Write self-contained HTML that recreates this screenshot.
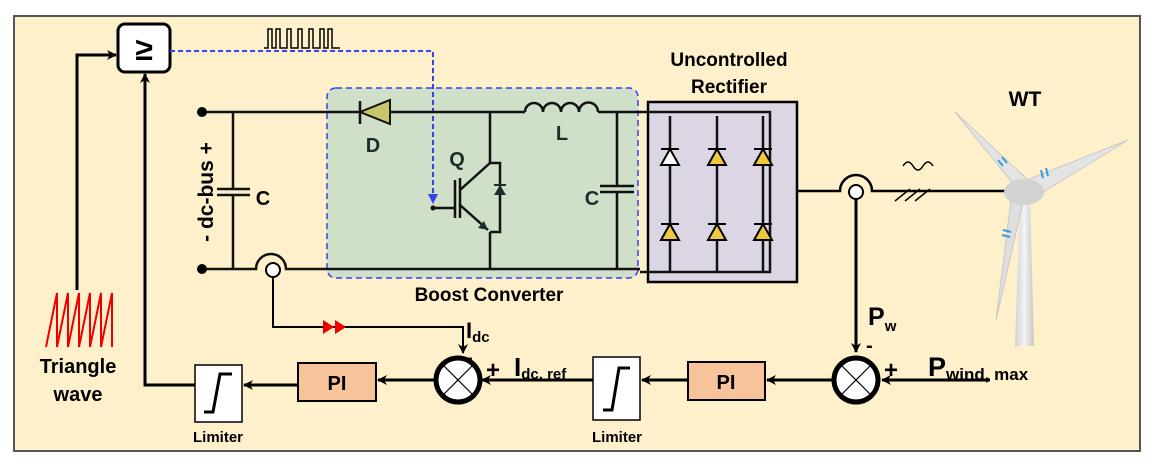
<!DOCTYPE html>
<html><head><meta charset="utf-8"><style>body{margin:0;background:#fff}svg{display:block}text{font-family:"Liberation Sans",Arial,sans-serif;font-weight:bold}</style></head><body>
<svg width="1153" height="465" viewBox="0 0 1153 465" xmlns="http://www.w3.org/2000/svg">
<defs>
<marker id="ah" markerWidth="10" markerHeight="10" refX="9" refY="5" orient="auto" markerUnits="userSpaceOnUse"><path d="M0,0 L10,5 L0,10 L3,5 z" fill="#000"/></marker>
<marker id="ab" markerWidth="10" markerHeight="10" refX="9" refY="5" orient="auto" markerUnits="userSpaceOnUse"><path d="M0,0 L10,5 L0,10 z" fill="#3344ee"/></marker>
<linearGradient id="tw" x1="0" x2="1"><stop offset="0" stop-color="#d0d0d0"/><stop offset=".5" stop-color="#f4f4f4"/><stop offset="1" stop-color="#c4c4c4"/></linearGradient>
</defs>
<rect x="14" y="16" width="1126" height="435" fill="#fdf0cb" stroke="#555" stroke-width="2"/>
<!-- comparator -->
<rect x="118" y="24" width="52" height="48" rx="7" fill="#fff" stroke="#000" stroke-width="3"/>
<text x="144" y="60" font-size="32" text-anchor="middle">≥</text>
<path d="M77,290 V55 H116" fill="none" stroke="#000" stroke-width="3" marker-end="url(#ah)"/>
<path d="M195,385 H145 V74" fill="none" stroke="#000" stroke-width="3" marker-end="url(#ah)"/>
<path d="M46,347 L57,293 V347 L68,293 V347 L79,293 V347 L90,293 V347 L101,293 V347 L112,293 V347" fill="none" stroke="#e00" stroke-width="2"/>
<text x="78" y="373" font-size="20" text-anchor="middle">Triangle</text>
<text x="78" y="401" font-size="20" text-anchor="middle">wave</text>
<path d="M264,48 H268 V29 H272 V48 H276 V29 H280 V48 H287 V29 H291 V48 H298 V29 H302 V48 H309 V29 H313 V48 H320 V29 H324 V48 H328 V29 H332 V48 H340" fill="none" stroke="#000" stroke-width="1.5"/>
<!-- green box -->
<rect x="327" y="88" width="311" height="190" rx="9" fill="#cfdfc8" stroke="#3344ee" stroke-width="1.5" stroke-dasharray="6,4"/>
<!-- blue dashed -->
<path d="M170,51 H433 V203" fill="none" stroke="#3344ee" stroke-width="2" stroke-dasharray="5,3" marker-end="url(#ab)"/>
<!-- rectifier box -->
<rect x="648" y="102" width="149" height="180" fill="#dcd6e4" stroke="#000" stroke-width="2.5"/>
<!-- dc bus -->
<g stroke="#111" stroke-width="2.5" fill="none">
<path d="M202,112 H360 M390,112 H525 M598,112 H770 V272 H640"/>
<path d="M670,116 V272 M717,116 V272 M763,116 V272"/>
<path d="M525,112 a9,9 0 0 1 18,0 a9,9 0 0 1 18,0 a9,9 0 0 1 18,0 a9,9 0 0 1 19,0"/>
<path d="M202,269 H256 A15,15 0 0 1 286,269 H640"/>
<path d="M233,112 V189 M233,195 V269 M217,189 H250 M217,195 H250"/>
<path d="M617,112 V186 M617,192 V269 M600,186 H634 M600,192 H634"/>
<path d="M490,112 V163 H500 V232 H490 M490,232 V269"/>
<path d="M433,208 H455 M455,180 V218 M460,178 V218 M460,190 L490,163 M460,205 L488,230"/>
<path d="M360,101 V124"/>
</g>
<path d="M360,112 L390,100 V124 z" fill="#c9c56b" stroke="#111" stroke-width="2"/>
<path d="M500,185 L494,195 H506 z" fill="#1a2e2e"/><path d="M494,185 H506" stroke="#1a2e2e" stroke-width="2"/>
<path d="M488,230 L478,228 L484,221 z" fill="#1a2e2e"/>
<circle cx="433" cy="208" r="2.5" fill="#111"/>
<circle cx="202" cy="112" r="5" fill="#000"/><circle cx="202" cy="269" r="5" fill="#000"/>
<circle cx="273" cy="270" r="7" fill="#fff" stroke="#000" stroke-width="2"/>
<!-- rectifier diodes -->
<g stroke="#000" stroke-width="2">
<path d="M661,149 H679 M708,149 H726 M754,149 H772 M661,224 H679 M708,224 H726 M754,224 H772"/>
<path d="M670,149 L661,165 H679 z" fill="#fff"/>
<path d="M717,149 L708,165 H726 z" fill="#f0c83c"/>
<path d="M763,149 L754,165 H772 z" fill="#f0c83c"/>
<path d="M670,224 L661,240 H679 z" fill="#f0c83c"/>
<path d="M717,224 L708,240 H726 z" fill="#f0c83c"/>
<path d="M763,224 L754,240 H772 z" fill="#f0c83c"/>
</g>
<g font-size="20" fill="#1a2e2e">
<text x="373" y="152" text-anchor="middle">D</text>
<text x="457" y="166" text-anchor="middle">Q</text>
<text x="562" y="140" text-anchor="middle">L</text>
<text x="592" y="205" text-anchor="middle">C</text>
</g>
<text x="263" y="205" font-size="20" text-anchor="middle">C</text>
<text transform="translate(213,192) rotate(-90)" font-size="21" text-anchor="middle">- dc-bus +</text>
<text x="489" y="301" font-size="19" text-anchor="middle">Boost Converter</text>
<text x="729" y="66" font-size="19" text-anchor="middle">Uncontrolled</text>
<text x="729" y="93" font-size="19" text-anchor="middle">Rectifier</text>
<text x="1025" y="106" font-size="21" text-anchor="middle">WT</text>
<!-- ac side -->
<path d="M797,191 H840 A16,16 0 0 1 872,191 H1015" fill="none" stroke="#000" stroke-width="2.5"/>
<circle cx="856" cy="192" r="7" fill="#fff" stroke="#000" stroke-width="2"/>
<path d="M856,199 V352" stroke="#000" stroke-width="3" marker-end="url(#ah)"/>
<path d="M895,201 L910,189 M905,201 L920,189 M915,201 L930,189" stroke="#000" stroke-width="1.5"/>
<path d="M903,166 q5,-8 10,0 t10,0 t10,0" fill="none" stroke="#000" stroke-width="1.5"/>
<!-- turbine -->
<path d="M1020,200 L1015,346 H1034 L1030,200 z" fill="url(#tw)"/>
<path d="M1015,186 L955,112 L1028,180 z" fill="#e4e4e4" stroke="#c8c8c8"/>
<path d="M1022,182 L1128,140 L1030,200 z" fill="#e4e4e4" stroke="#c8c8c8"/>
<path d="M1012,192 L996,320 L1024,198 z" fill="#dedede" stroke="#c8c8c8"/>
<ellipse cx="1024" cy="192" rx="20" ry="13" fill="#d2d2d2"/>
<path d="M998,160 l5,6 M1002,157 l5,6 M1043,178 l-2,-8 M1048,176 l-2,-8 M1003,230 l8,2 M1002,235 l8,2" stroke="#3a9ae0" stroke-width="2"/>
<!-- feedback current -->
<path d="M273,277 V327 H463 V353" fill="none" stroke="#000" stroke-width="2" marker-end="url(#ah)"/>
<path d="M323,320 L334,327 L323,334 z M335,320 L346,327 L335,334 z" fill="#e00"/>
<!-- bottom chain -->
<g stroke="#000" stroke-width="3" fill="none">
<path d="M990,380 H882" marker-end="url(#ah)"/>
<path d="M834,380 H767" marker-end="url(#ah)"/>
<path d="M688,380 H642" marker-end="url(#ah)"/>
<path d="M593,380 H482" marker-end="url(#ah)"/>
<path d="M435,380 H378" marker-end="url(#ah)"/>
<path d="M297,385 H244" marker-end="url(#ah)"/>
</g>
<g stroke="#000">
<circle cx="856" cy="380" r="22" fill="#fff" stroke-width="5"/>
<path d="M841,365 L871,395 M871,365 L841,395" stroke-width="1.2"/>
<circle cx="458" cy="380" r="22" fill="#fff" stroke-width="5"/>
<path d="M443,365 L473,395 M473,365 L443,395" stroke-width="1.2"/>
</g>
<rect x="688" y="362" width="77" height="38" fill="#f7c39b" stroke="#000" stroke-width="2"/>
<text x="726" y="389" font-size="20" text-anchor="middle">PI</text>
<rect x="298" y="363" width="78" height="38" fill="#f7c39b" stroke="#000" stroke-width="2"/>
<text x="337" y="390" font-size="20" text-anchor="middle">PI</text>
<rect x="593" y="357" width="47" height="63" fill="#fff" stroke="#000" stroke-width="1.5"/>
<path d="M603,410 H612 L619,368 H630" fill="none" stroke="#000" stroke-width="3"/>
<rect x="195" y="365" width="47" height="57" fill="#fff" stroke="#000" stroke-width="1.5"/>
<path d="M204,412 H213 L220,374 H232" fill="none" stroke="#000" stroke-width="3"/>
<text x="218" y="442" font-size="15" text-anchor="middle">Limiter</text>
<text x="617" y="442" font-size="15" text-anchor="middle">Limiter</text>
<text x="868" y="325" font-size="25">P<tspan font-size="15" dy="6">w</tspan></text>
<text x="866" y="352" font-size="20">-</text>
<text x="884" y="378" font-size="24">+</text>
<text x="928" y="376" font-size="27">P<tspan font-size="17" dy="4">wind, max</tspan></text>
<text x="466" y="338" font-size="22">I<tspan font-size="15" dy="4">dc</tspan></text>
<text x="466" y="364" font-size="20">-</text>
<text x="486" y="378" font-size="24">+</text>
<text x="514" y="376" font-size="26">I<tspan font-size="15" dy="3">dc, ref</tspan></text>
</svg>
</body></html>
